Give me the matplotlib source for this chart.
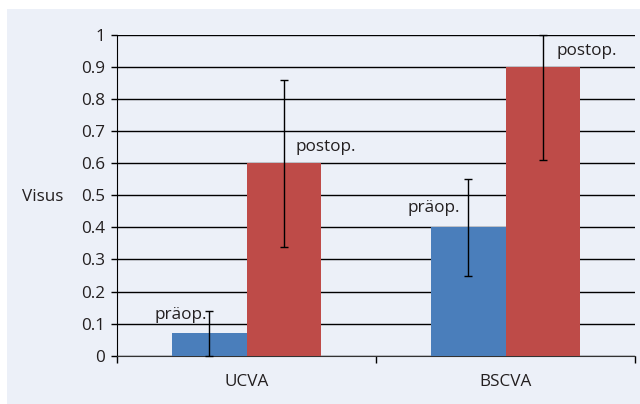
import matplotlib
matplotlib.use("Agg")
import matplotlib.pyplot as plt
from matplotlib.patches import Rectangle
import numpy as np

categories = ["UCVA", "BSCVA"]
pre_values = [0.07, 0.40]
post_values = [0.60, 0.90]
pre_err_low = [0.07, 0.15]
pre_err_high = [0.07, 0.15]
post_err_low = [0.26, 0.29]
post_err_high = [0.26, 0.10]
pre_label = "präop."
post_label = "postop."
y_ticks = [0, 0.1, 0.2, 0.3, 0.4, 0.5, 0.6, 0.7, 0.8, 0.9, 1]
y_tick_labels = ["0", "0.1", "0.2", "0.3", "0.4", "0.5", "0.6", "0.7", "0.8", "0.9", "1"]
y_label = "Visus"

plt.rcParams['font.family'] = ['Open Sans', 'DejaVu Sans']
text_color = "#231f20"
bg = "#ecf0f8"
blue = "#4a7ebb"
red = "#be4b48"
fs = 12.3

fig = plt.figure(figsize=(6.4, 4.04), dpi=100, facecolor="white")
fig.patches.append(Rectangle((7/640, 0), 1 - 7/640, 1 - 9/404, transform=fig.transFigure,
                             facecolor=bg, edgecolor="none", zorder=-10))
ax = fig.add_axes([117/640, 1 - 355.7/404, (635 - 117)/640, (355.7 - 35)/404])
ax.set_facecolor("none")

x = np.arange(len(categories))
w = 0.286
ax.bar(x - w/2, pre_values, width=w, color=blue, zorder=3)
ax.bar(x + w/2, post_values, width=w, color=red, zorder=3)
ax.errorbar(x - w/2, pre_values, yerr=[pre_err_low, pre_err_high], fmt="none",
            ecolor="black", elinewidth=1, capsize=2.6, capthick=1, zorder=4, clip_on=False)
ax.errorbar(x + w/2, post_values, yerr=[post_err_low, post_err_high], fmt="none",
            ecolor="black", elinewidth=1, capsize=2.6, capthick=1, zorder=4, clip_on=False)

ax.set_xlim(-0.5, len(categories) - 0.5)
ax.set_ylim(0, 1)
ax.set_yticks(y_ticks)
ax.set_yticklabels(y_tick_labels, fontsize=fs, color=text_color)
ax.yaxis.grid(True, color="black", linewidth=1, zorder=1)
ax.set_axisbelow(True)

# category labels at centers, tick marks at boundaries
ax.set_xticks(np.arange(-0.5, len(categories)))
ax.set_xticklabels([])
ax.set_xticks(x, minor=True)
ax.set_xticklabels(categories, minor=True, fontsize=fs, color=text_color)
ax.tick_params(axis="x", which="minor", length=0, pad=13)
ax.tick_params(axis="x", which="major", length=5, width=1, color="black", direction="out")
ax.tick_params(axis="y", length=4.5, width=1, color="black", direction="out", pad=4)

for s in ["top", "right"]:
    ax.spines[s].set_visible(False)
ax.spines["left"].set_color("black")
ax.spines["bottom"].set_color("#333333")

fig.text(22/640, 1 - 197/404, y_label, fontsize=fs, color=text_color, va="center", ha="left")

# annotation labels (baseline-anchored)
ax.text(-0.154, 0.113, pre_label, fontsize=fs, color=text_color,
        ha="right", va="baseline", zorder=5)
ax.text(0.191, 0.639, post_label, fontsize=fs, color=text_color,
        ha="left", va="baseline", zorder=5)
ax.text(0.824, 0.448, pre_label, fontsize=fs, color=text_color,
        ha="right", va="baseline", zorder=5)
ax.text(1.195, 0.937, post_label, fontsize=fs, color=text_color,
        ha="left", va="baseline", zorder=5)

fig.savefig("out.png", dpi=100, facecolor="white")
